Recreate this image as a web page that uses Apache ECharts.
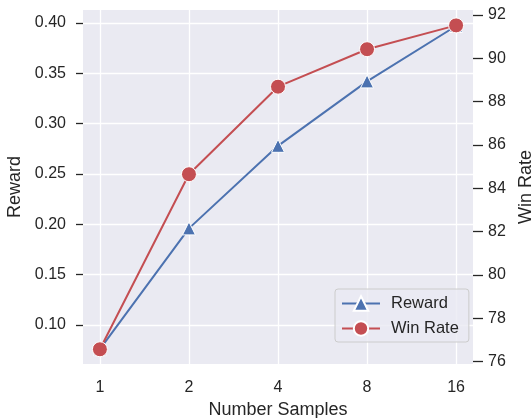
<!DOCTYPE html>
<html>
<head>
<meta charset="utf-8">
<script src="https://cdn.jsdelivr.net/npm/echarts@6/dist/echarts.min.js"></script>
<style>
  html, body { margin: 0; padding: 0; background: #fff; }
  #chart { width: 531px; height: 418px; }
</style>
</head>
<body>
<div id="chart"></div>
<script>
// x categories (number of samples)
var samples = ['1', '2', '4', '8', '16'];
// series values
var reward = [0.076, 0.196, 0.278, 0.342, 0.397];
var winRate = [76.57, 84.65, 88.69, 90.42, 91.52];
// tick labels
var rewardTicks = [0.10, 0.15, 0.20, 0.25, 0.30, 0.35, 0.40];
var winTicks = [76, 78, 80, 82, 84, 86, 88, 90, 92];

var blue = '#4C72B0';
var red = '#C44E52';
var ink = '#262626';
var font = 'Liberation Sans, Arial, sans-serif';

function toPoints(vals) {
    var out = [];
    for (var i = 0; i < vals.length; i++) {
        out.push([i, vals[i]]);
    }
    return out;
}

function drawChart() {
    var chart = echarts.init(document.getElementById('chart'));
    var xIdx = samples.map(function (s, i) { return i; });
    var tickStyle = {color: ink, width: 1.3};
    var option = {
        animation: false,
        textStyle: {fontFamily: font},
        grid: {
            left: 83, right: 58, top: 10, bottom: 54,
            outerBoundsMode: 'none',   // keep the grid where it is put
            containLabel: false,
            show: true, backgroundColor: '#EAEAF2', borderWidth: 0
        },
        legend: {
            orient: 'vertical',
            left: 335, top: 289,
            padding: [6, 10, 5, 6],
            itemGap: 8,
            itemWidth: 38, itemHeight: 18,
            backgroundColor: 'rgba(234,234,242,0.8)',
            borderColor: '#cccccc', borderWidth: 1, borderRadius: 3,
            textStyle: {fontFamily: font, fontSize: 16.5, color: ink, padding: [0, 0, 0, 6]},
            data: ['Reward', 'Win Rate']
        },
        xAxis: {
            type: 'value',
            min: -0.19, max: 4.19,
            name: 'Number Samples',
            nameLocation: 'middle',
            nameGap: 34,
            nameTextStyle: {fontFamily: font, fontSize: 18, color: ink},
            axisLine: {show: false, onZero: false},
            axisTick: {show: false, customValues: xIdx},
            axisLabel: {
                customValues: xIdx,
                margin: 16,
                fontFamily: font, fontSize: 16, color: ink,
                formatter: function (v) { return samples[Math.round(v)]; }
            },
            splitLine: {show: true, lineStyle: {color: '#ffffff', width: 1.3}}
        },
        yAxis: [{
            type: 'value',
            position: 'left',
            min: 0.0613, max: 0.4129,
            name: 'Reward',
            nameLocation: 'middle',
            nameGap: 52,
            nameTextStyle: {fontFamily: font, fontSize: 18, color: ink},
            axisLine: {show: false, onZero: false},
            axisTick: {show: true, length: 7, customValues: rewardTicks, lineStyle: tickStyle},
            axisLabel: {
                customValues: rewardTicks,
                margin: 17,
                fontFamily: font, fontSize: 16, color: ink,
                formatter: function (v) { return v.toFixed(2); }
            },
            splitLine: {show: true, lineStyle: {color: '#ffffff', width: 1.3}}
        }, {
            type: 'value',
            position: 'right',
            min: 75.89, max: 92.23,
            name: 'Win Rate',
            nameLocation: 'middle',
            nameGap: 35,
            nameRotate: 90,
            nameTextStyle: {fontFamily: font, fontSize: 18, color: ink},
            axisLine: {show: false, onZero: false},
            axisTick: {show: true, length: 10, customValues: winTicks, lineStyle: tickStyle},
            axisLabel: {
                customValues: winTicks,
                margin: 15,
                fontFamily: font, fontSize: 16, color: ink
            },
            splitLine: {show: false}
        }],
        series: [{
            name: 'Reward',
            type: 'line',
            yAxisIndex: 0,
            data: toPoints(reward),
            symbol: 'triangle',
            symbolSize: 13,
            lineStyle: {color: blue, width: 2},
            itemStyle: {color: blue, borderColor: '#ffffff', borderWidth: 1},
            z: 2
        }, {
            name: 'Win Rate',
            type: 'line',
            yAxisIndex: 1,
            data: toPoints(winRate),
            symbol: 'circle',
            symbolSize: 15,
            lineStyle: {color: red, width: 2},
            itemStyle: {color: red, borderColor: '#ffffff', borderWidth: 1},
            z: 3
        }]
    };
    chart.setOption(option);
}

window.onload = function () {
    drawChart();
};
</script>
</body>
</html>
